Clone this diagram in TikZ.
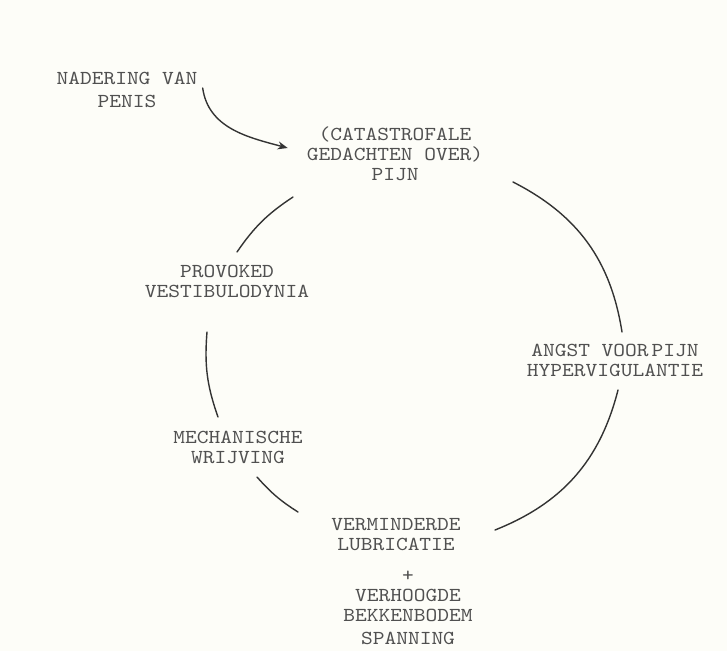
\documentclass[tikz,border=0pt]{standalone}
\usepackage{fontspec}
\newfontfamily\cyclefont{lmmono10-regular.otf}[FakeStretch=1.13]
\usetikzlibrary{arrows.meta, positioning}
\definecolor{cBack}{HTML}{FDFDF8}
\definecolor{cText}{HTML}{505050}
\definecolor{cLine}{HTML}{333333}

\begin{document}
\begin{tikzpicture}[x=1pt, y=1pt,
  every node/.style={font=\cyclefont\fontsize{19.8}{20}\selectfont, text=cText,
                     align=center, inner sep=2pt},
  ring/.style={line width=1.4pt, cLine, line cap=round},
  push/.style={ring, -{Stealth[length=10pt, width=8pt]}}]
  % canvas
  \fill[cBack] (0,0) rectangle (727,-651);
  \useasboundingbox (0,0) rectangle (727,-651);
  % labels
  \node (nadering) at (127,-90) {NADERING VAN\\[3pt]PENIS};
  \node (pijn) at (395,-154) {(CATASTROFALE\\GEDACHTEN OVER)\\PIJN};
  \node (angst) at (615,-360) {ANGST VOOR\hspace{3pt}PIJN\\HYPERVIGULANTIE};
  \node (verm) at (396,-535) {VERMINDERDE\\LUBRICATIE};
  \node (spanning) [below=15pt of verm, xshift=12pt] {+\\VERHOOGDE\\BEKKENBODEM\\[3pt]SPANNING};
  \node (mech) at (238,-447) {MECHANISCHE\\WRIJVING};
  \node (prov) at (227,-281) {PROVOKED\\VESTIBULODYNIA};
  % ends of the circle pieces
  \coordinate (r1s) at (513,-182); \coordinate (r1e) at (622,-332);
  \coordinate (r2s) at (618,-390); \coordinate (r2e) at (495,-530);
  \coordinate (l1s) at (298,-512); \coordinate (l1e) at (257,-477);
  \coordinate (l2s) at (218,-417); \coordinate (l2e) at (207,-332);
  \coordinate (l3s) at (237,-252); \coordinate (l3e) at (293,-197);
  % cycle
  \draw[ring] (r1s) to[bend left=27] (r1e);
  \draw[ring] (r2s) to[bend left=27] (r2e);
  \draw[ring] (l1s) to[bend left=8] (l1e);
  \draw[ring] (l2s) to[bend left=12] (l2e);
  \draw[ring] (l3s) to[bend left=11] (l3e);
  % trigger
  \draw[push] ([shift={(3,2)}]nadering.east) to[out=-82, in=165] ([shift={(-17,6)}]pijn.west);
\end{tikzpicture}
\end{document}
